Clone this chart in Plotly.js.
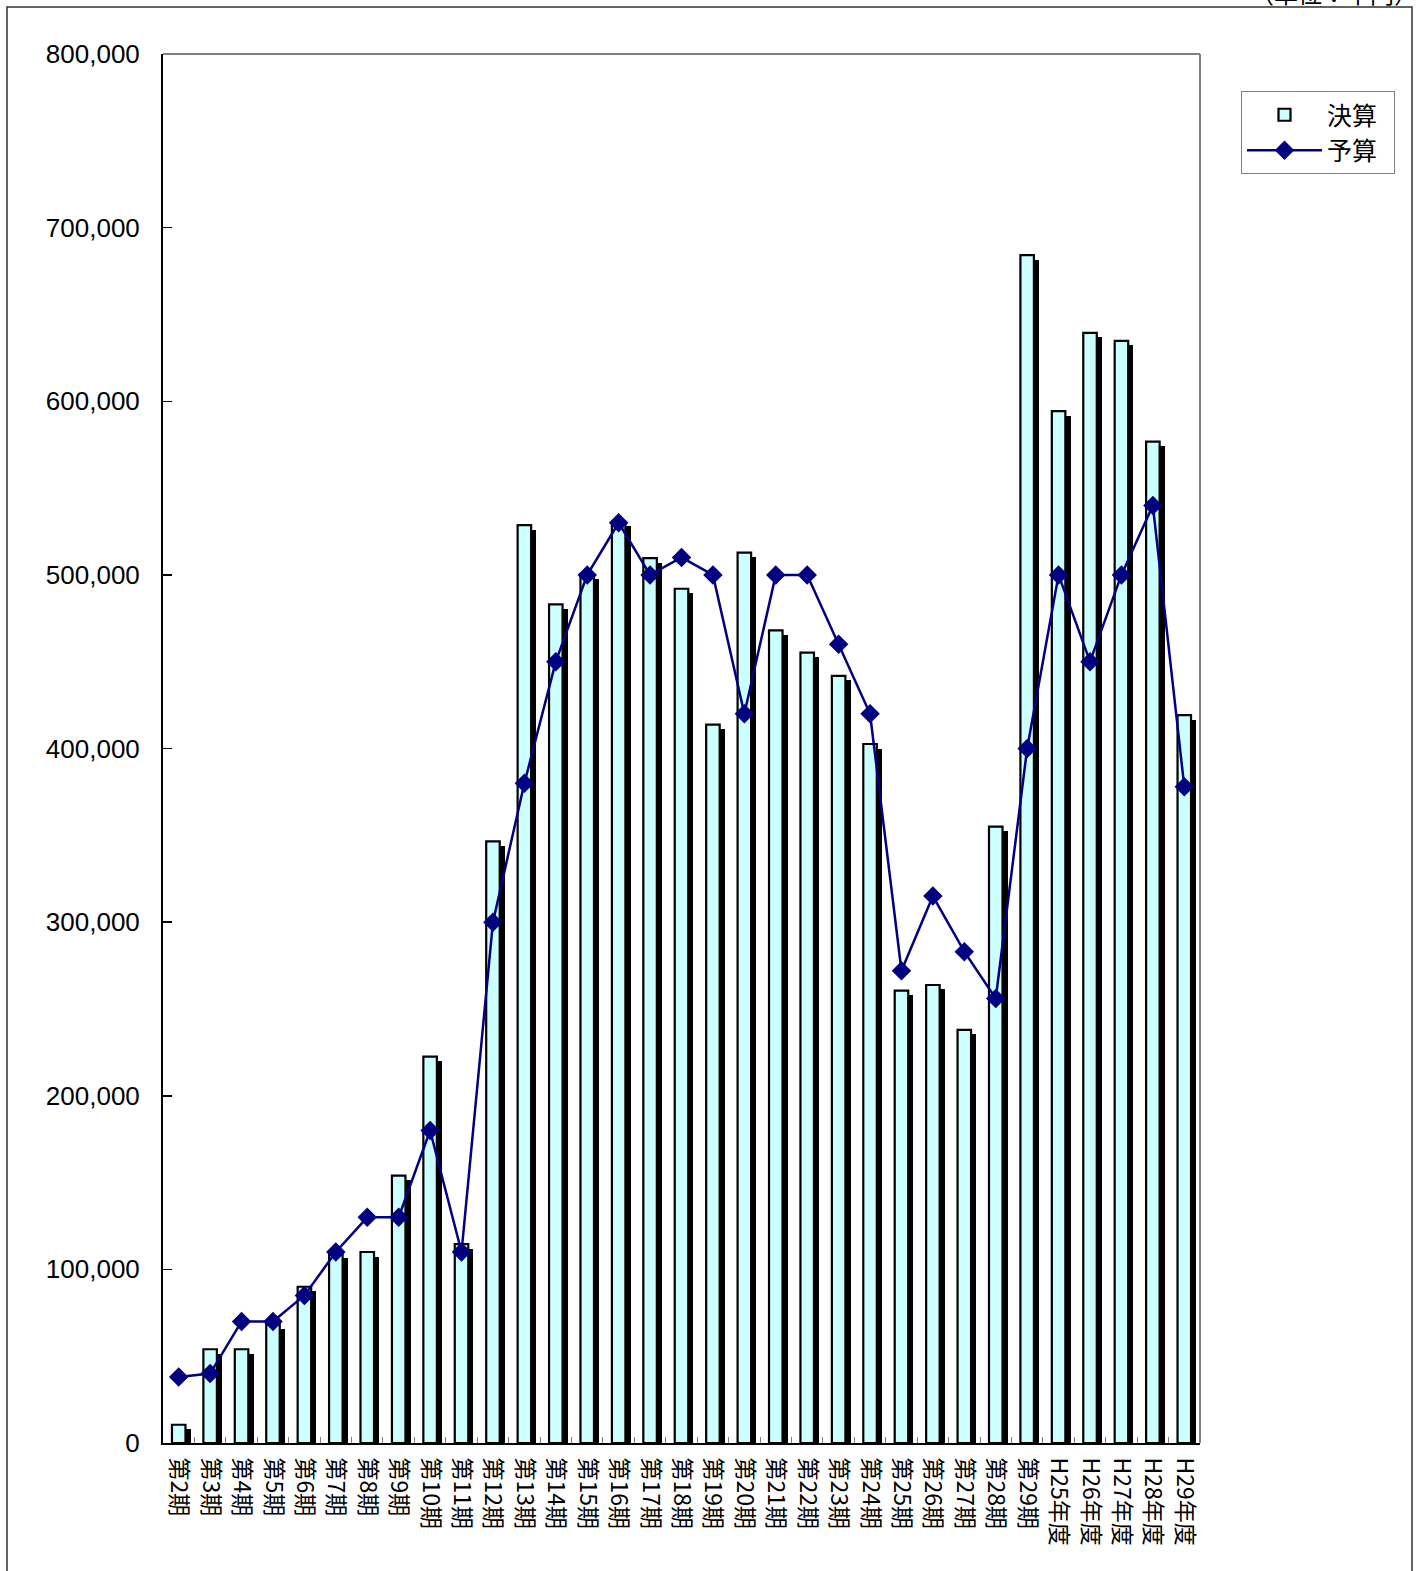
<!DOCTYPE html>
<html><head><meta charset="utf-8">
<script src="https://cdn.plot.ly/plotly-3.0.1.min.js"></script>
<style>html,body{margin:0;padding:0;background:#fff;}#chart{width:1424px;height:1571px;}</style>
</head><body><div id="chart"></div>
<script>
const categories = ["第2期","第3期","第4期","第5期","第6期","第7期","第8期","第9期","第10期","第11期","第12期","第13期","第14期","第15期","第16期","第17期","第18期","第19期","第20期","第21期","第22期","第23期","第24期","第25期","第26期","第27期","第28期","第29期","H25年度","H26年度","H27年度","H28年度","H29年度"];
const actual = [10500,54000,54000,68500,90000,109000,110000,154000,222500,114500,346500,528700,483000,500500,530600,509700,492000,413700,512800,468000,455200,441800,402600,260500,263800,237900,355000,684200,594300,639400,634800,576800,419200];
const budget = [38000,40000,70000,70000,85000,110000,130000,130000,180000,110000,300000,380000,450000,500000,530000,500000,510000,500000,420000,500000,500000,460000,420000,272000,315000,283000,256000,400000,500000,450000,500000,540000,378000];
const seriesNames = ["決算","予算"];
const yTicks = [0,100000,200000,300000,400000,500000,600000,700000,800000];
const yTickText = ["0","100,000","200,000","300,000","400,000","500,000","600,000","700,000","800,000"];

const L=163,R=1200,T=54,B=1443,W=1424,H=1571;
const pw=R-L, ph=B-T;
const px=x=>(x-L)/pw, py=y=>(B-y)/ph;

const traces = [
  {type:'bar', x:categories, y:actual, base:-2600, width:0.43, offset:-0.05,
   marker:{color:'#000000', line:{width:0}}, showlegend:false, hoverinfo:'skip'},
  {type:'bar', name:seriesNames[0]+'&nbsp;&nbsp;', x:categories, y:actual, width:0.43, offset:-0.215,
   marker:{color:'#CCFFFF', line:{color:'#000000', width:2.2}}},
  {type:'scatter', mode:'lines+markers', name:seriesNames[1]+'&nbsp;&nbsp;', x:categories, y:budget,
   line:{color:'#000080', width:2.5}, marker:{symbol:'diamond', size:15, color:'#000080'}}
];

const layout = {
  width:W, height:H, margin:{l:L, r:W-R, t:T, b:H-B},
  paper_bgcolor:'#ffffff', plot_bgcolor:'#ffffff',
  barmode:'overlay', bargap:0,
  font:{family:'"Liberation Sans", Arial, "Noto Sans CJK JP", sans-serif', color:'#000'},
  xaxis:{type:'category', showline:true, linecolor:'#000', linewidth:2,
    ticks:'inside', tickson:'boundaries', ticklen:6, tickcolor:'#808080', tickwidth:1,
    tickangle:90, tickfont:{family:'"Noto Sans CJK JP", sans-serif', size:23, color:'#000'},
    ticklabelstandoff:8,
    showgrid:false, zeroline:false, range:[-0.5,32.5], fixedrange:true},
  yaxis:{range:[0,800000], tickvals:yTicks, ticktext:yTickText, showline:true, linecolor:'#000', linewidth:2,
    ticks:'inside', ticklen:9, tickcolor:'#000', tickwidth:1.5, showgrid:false, zeroline:false,
    tickfont:{family:'"Liberation Sans", Arial, sans-serif', size:26, color:'#000'}, ticklabelstandoff:16},
  legend:{x:px(1241), y:py(91), xanchor:'left', yanchor:'top', bordercolor:'#808080', borderwidth:1,
    bgcolor:'#fff', font:{family:'"Noto Sans CJK JP", sans-serif', size:25, color:'#000'},
    itemwidth:75, tracegroupgap:0},
  shapes:[
    {type:'line', xref:'paper', yref:'paper', x0:0, x1:1, y0:1, y1:1, line:{color:'#808080', width:2}},
    {type:'line', xref:'paper', yref:'paper', x0:1, x1:1, y0:0, y1:1, line:{color:'#808080', width:2}},
    {type:'rect', xref:'paper', yref:'paper', x0:px(7), x1:px(1412), y0:py(1700), y1:py(7), line:{color:'#303030', width:1.5}, fillcolor:'rgba(0,0,0,0)'}
  ],
  annotations:[
    {xref:'paper', yref:'paper', x:px(1420), y:py(12), xanchor:'right', yanchor:'bottom', showarrow:false,
     text:'（単位：千円）', font:{family:'"Noto Sans CJK JP", sans-serif', size:24, color:'#000'}}
  ]
};
Plotly.newPlot('chart', traces, layout, {staticPlot:true, displayModeBar:false});
</script></body></html>
